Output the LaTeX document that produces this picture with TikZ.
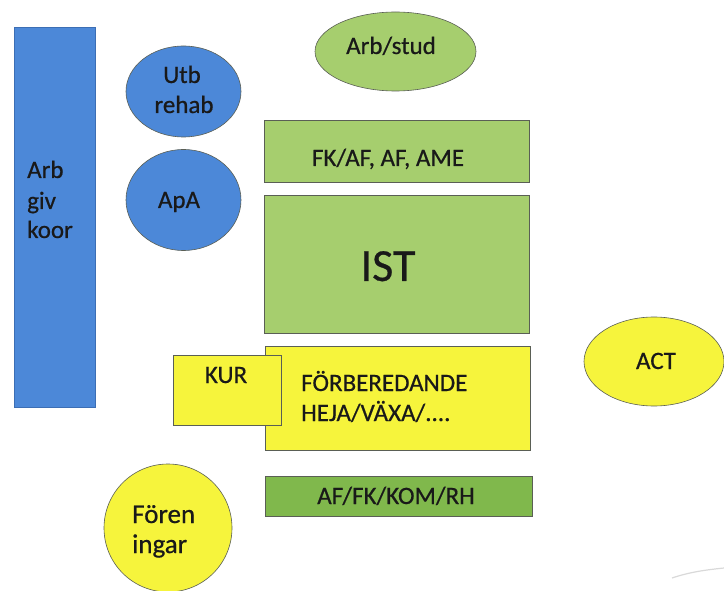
\documentclass[tikz,border=0pt]{standalone}
\usepackage{fontspec}
\setmainfont{Carlito}[FakeBold=0.6]
\usetikzlibrary{shapes.geometric}
\definecolor{bblue}{RGB}{76,136,216}
\definecolor{bblueedge}{RGB}{60,110,180}
\definecolor{lgreen}{RGB}{166,206,110}
\definecolor{dgreen}{RGB}{128,184,76}
\definecolor{yel}{RGB}{246,244,60}
\definecolor{edge}{RGB}{90,95,85}
\definecolor{ink}{RGB}{25,25,25}
\begin{document}
\begin{tikzpicture}[x=1pt,y=-1pt,
  every node/.style={font=\fontsize{25}{30}\selectfont, text=ink, inner sep=0pt},
  boxbase/.style={draw=edge, line width=0.8pt},
  bluebox/.style={fill=bblue, draw=bblueedge, line width=0.5pt},
  blueell/.style={ellipse, fill=bblue, draw=edge, line width=0.6pt},
  greenbox/.style={boxbase, fill=lgreen},
  dgreenbox/.style={boxbase, fill=dgreen},
  yelbox/.style={boxbase, fill=yel},
  greenell/.style={ellipse, fill=lgreen, draw=edge, line width=0.6pt},
  yelell/.style={ellipse, fill=yel, draw=edge, line width=0.6pt},
  lbl/.style={anchor=base},
  lblw/.style={anchor=base west}
]
\useasboundingbox (0,0) rectangle (724,591);
% blue column
\node[bluebox, minimum width=81pt, minimum height=380pt] (arbgiv) at (54.5,217) {};
\node[lblw] (arbgiv1) at (27,178) {Arb};
\node[lblw] (arbgiv2) at (27,209) {giv};
\node[lblw] (arbgiv3) at (27,238) {koor};
% blue ellipses
\node[blueell, minimum width=115pt, minimum height=91pt] (utb) at (183.5,91.5) {};
\node[lbl] (utb1) at (182,83) {Utb};
\node[lbl] (utb2) at (184,113) {rehab};
\node[blueell, minimum width=115pt, minimum height=101pt] (apa) at (183.5,200) {};
\node[lbl] (apatxt) at (179,208) {ApA};
% green
\node[greenell, minimum width=161pt, minimum height=79pt] (arbstud) at (395.5,51.5) {};
\node[lbl] (arbstudtxt) at (391,54) {Arb/stud};
\node[greenbox, minimum width=265pt, minimum height=62pt] (fk) at (396.5,151) {};
\node[lbl] (fktxt) at (388,166) {FK/AF, AF, AME};
\node[greenbox, minimum width=265pt, minimum height=138pt] (ist) at (396.5,264) {};
\node[lbl, font=\fontsize{46}{50}\selectfont] (isttxt) at (388,281) {IST};
% yellow
\node[yelbox, minimum width=265pt, minimum height=104pt] (forb) at (397.5,398) {};
\node[lblw] (forb1) at (301,391) {FÖRBEREDANDE};
\node[lblw] (forb2) at (301,421) {HEJA/VÄXA/....};
\node[yelbox, minimum width=108pt, minimum height=70pt] (kur) at (227,390) {};
\node[lbl] (kurtxt) at (226,383) {KUR};
\node[dgreenbox, minimum width=267pt, minimum height=40pt] (afbox) at (398.5,496) {};
\node[lbl] (aftxt) at (396,504) {AF/FK/KOM/RH};
% ACT
\node[yelell, minimum width=140pt, minimum height=89pt] (act) at (654,361.5) {};
\node[lbl] (acttxt) at (656,369) {ACT};
% Fören ingar
\node[circle, fill=yel, draw=edge, line width=0.6pt, minimum size=128pt] (foren) at (168,528) {};
\node[lblw, font=\fontsize{27}{30}\selectfont] (foren1) at (132,523) {Fören};
\node[lblw, font=\fontsize{27}{30}\selectfont] (foren2) at (132,553) {ingar};
% faint scan mark
\draw[black!15, line width=1.2pt] (672,578) .. controls (690,572) and (705,570) .. (724,568);
\end{tikzpicture}
\end{document}
